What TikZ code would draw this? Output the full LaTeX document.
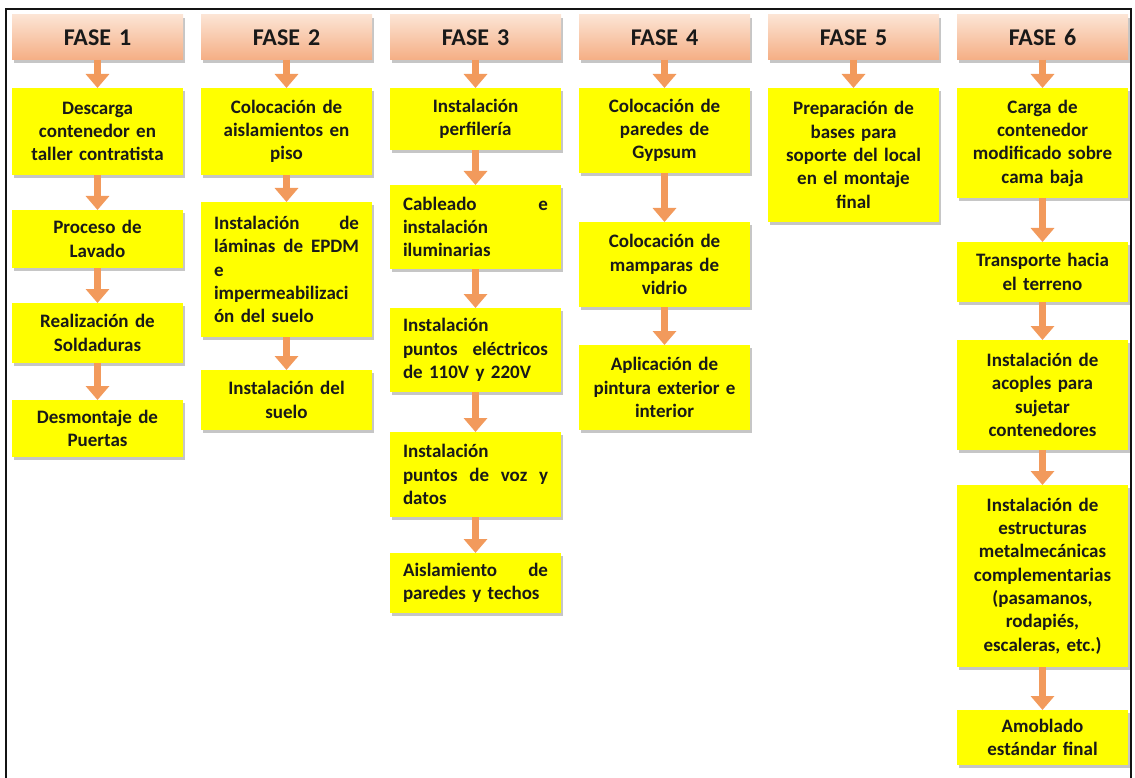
\documentclass[tikz,border=0pt]{standalone}
\usepackage{fontspec}
\setmainfont{Carlito}
\usepackage{tikz}
\usetikzlibrary{
  arrows.meta,
  positioning,
  shadows
}
\definecolor{fsPeachTop}{HTML}{FCE4D4}
\definecolor{fsPeachBot}{HTML}{F5AE84}
\definecolor{fsYellow}{HTML}{FFFF00}
\definecolor{fsArrow}{HTML}{F29A5C}
\definecolor{fsFrame}{HTML}{141414}
\tikzset{
  fsnode/.style={
    outer sep=0pt, text width=145pt, inner xsep=13pt, align=center,
    font=\fontsize{19}{23.3}\selectfont\bfseries, text=black!90
  },
  fase/.style={
    fsnode, top color=fsPeachTop, bottom color=fsPeachBot, minimum height=45pt,
    font=\fontsize{24}{28}\selectfont\bfseries,
    drop shadow={shadow xshift=2pt, shadow yshift=-3pt, fill=black!50, opacity=0.45}
  },
  tarea/.style={
    fsnode, fill=fsYellow,
    drop shadow={shadow xshift=2pt, shadow yshift=-3pt, fill=black!50, opacity=0.45}
  },
  tareaj/.style={tarea, align=left},
  flecha/.style={-{Triangle[width=23pt, length=14pt]}, line width=7pt, fsArrow},
  marco/.style={line width=2pt, fsFrame}
}

\begin{document}
\begin{tikzpicture}[node distance=18pt]
  \useasboundingbox (0,0) rectangle (1135pt,-778pt);
  \draw[marco] (6pt,-790pt) |- (1131pt,-9pt) -- (1131pt,-790pt);

  \node[fase, anchor=north west] (f1) at (12pt,-15pt) {FASE 1};
  \node[fase, right=of f1] (f2) {FASE 2};
  \node[fase, right=of f2] (f3) {FASE 3};
  \node[fase, right=of f3] (f4) {FASE 4};
  \node[fase, right=of f4] (f5) {FASE 5};
  \node[fase, right=of f5] (f6) {FASE 6};

  \node[tarea, below=28pt of f1, minimum height=87pt] (t11) {Descarga\\ contenedor en\\ taller contratista};
  \node[tarea, below=35pt of t11, minimum height=58pt] (t12) {Proceso de\\ Lavado};
  \node[tarea, below=35pt of t12, minimum height=60pt] (t13) {Realización de\\ Soldaduras};
  \node[tarea, below=37pt of t13, minimum height=57pt] (t14) {Desmontaje de\\ Puertas};

  \node[tarea, below=28pt of f2, minimum height=87pt] (t21) {Colocación de\\ aislamientos en\\ piso};
  \node[tareaj, below=27pt of t21, minimum height=135pt] (t22) {Instalación\hfill de\\ láminas\hfill de\hfill EPDM\\ e\\ impermeabilizaci\\ ón del suelo};
  \node[tarea, below=33pt of t22, minimum height=60pt] (t23) {Instalación del\\ suelo};

  \node[tarea, below=28pt of f3, minimum height=62pt] (t31) {Instalación\\ perfilería};
  \node[tareaj, below=35pt of t31, minimum height=84pt] (t32) {Cableado\hfill e\\ instalación\\ iluminarias};
  \node[tareaj, below=39pt of t32, minimum height=84pt] (t33) {Instalación\\ puntos\hfill eléctricos\\ de 110V y 220V};
  \node[tareaj, below=40pt of t33, minimum height=85pt] (t34) {Instalación\\ puntos\hfill de\hfill voz\hfill y\\ datos};
  \node[tareaj, below=36pt of t34, minimum height=60pt] (t35) {Aislamiento\hfill de\\ paredes y techos};

  \node[tarea, below=28pt of f4, minimum height=85pt] (t41) {Colocación de\\ paredes de\\ Gypsum};
  \node[tarea, below=49pt of t41, minimum height=85pt] (t42) {Colocación de\\ mamparas de\\ vidrio};
  \node[tarea, below=38pt of t42, minimum height=85pt] (t43) {Aplicación de\\ pintura exterior e\\ interior};

  \node[tarea, below=28pt of f5, minimum height=134pt] (t51) {Preparación de\\ bases para\\ soporte del local\\ en el montaje\\ final};

  \node[tarea, below=28pt of f6, minimum height=110pt] (t61) {Carga de\\ contenedor\\ modificado sobre\\ cama baja};
  \node[tarea, below=44pt of t61, minimum height=60pt] (t62) {Transporte hacia\\ el terreno};
  \node[tarea, below=38pt of t62, minimum height=110pt] (t63) {Instalación de\\ acoples para\\ sujetar\\ contenedores};
  \node[tarea, below=35pt of t63, minimum height=182pt] (t64) {Instalación de\\ estructuras\\ metalmecánicas\\ complementarias\\ (pasamanos,\\ rodapiés,\\ escaleras, etc.)};
  \node[tarea, below=43pt of t64, minimum height=55pt] (t65) {Amoblado\\ estándar final};

  \draw[flecha] (f1) -- (t11);
  \draw[flecha] (t11) -- (t12);
  \draw[flecha] (t12) -- (t13);
  \draw[flecha] (t13) -- (t14);
  \draw[flecha] (f2) -- (t21);
  \draw[flecha] (t21) -- (t22);
  \draw[flecha] (t22) -- (t23);
  \draw[flecha] (f3) -- (t31);
  \draw[flecha] (t31) -- (t32);
  \draw[flecha] (t32) -- (t33);
  \draw[flecha] (t33) -- (t34);
  \draw[flecha] (t34) -- (t35);
  \draw[flecha] (f4) -- (t41);
  \draw[flecha] (t41) -- (t42);
  \draw[flecha] (t42) -- (t43);
  \draw[flecha] (f5) -- (t51);
  \draw[flecha] (f6) -- (t61);
  \draw[flecha] (t61) -- (t62);
  \draw[flecha] (t62) -- (t63);
  \draw[flecha] (t63) -- (t64);
  \draw[flecha] (t64) -- (t65);
\end{tikzpicture}
\end{document}
